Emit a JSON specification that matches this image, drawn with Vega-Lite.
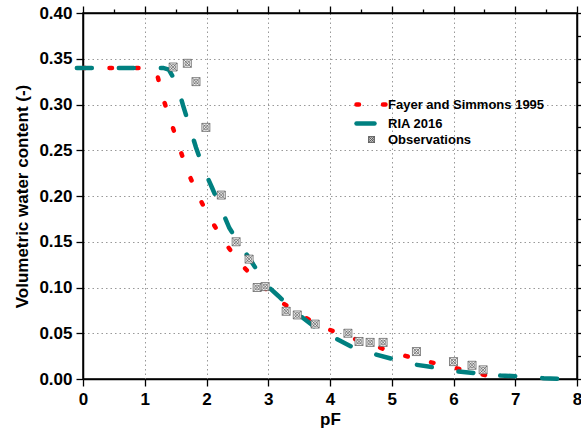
{
  "$schema": "https://vega.github.io/schema/vega-lite/v6.json",
  "width": 494,
  "height": 366,
  "autosize": "none",
  "padding": {"left": 83, "top": 13, "right": 4, "bottom": 54},
  "background": "white",
  "config": {
    "font": "Liberation Sans",
    "view": {"stroke": "black", "strokeWidth": 1.5},
    "axis": {
      "domainColor": "black", "domainWidth": 1.5,
      "tickColor": "black", "tickWidth": 1.3,
      "labelFont": "Liberation Sans", "labelFontSize": 17, "labelFontWeight": "bold", "labelColor": "black",
      "titleFont": "Liberation Sans", "titleFontSize": 17, "titleFontWeight": "bold", "titleColor": "black",
      "gridDash": [1.5, 3], "gridWidth": 1
    }
  },
  "datasets": {
    "curves": [
      {"series": "Fayer and Simmons 1995", "pF": 0.0, "theta": 0.34},
      {"series": "Fayer and Simmons 1995", "pF": 1.0, "theta": 0.34},
      {"series": "Fayer and Simmons 1995", "pF": 1.1, "theta": 0.339},
      {"series": "Fayer and Simmons 1995", "pF": 1.2, "theta": 0.333},
      {"series": "Fayer and Simmons 1995", "pF": 1.3, "theta": 0.306},
      {"series": "Fayer and Simmons 1995", "pF": 1.43, "theta": 0.28},
      {"series": "Fayer and Simmons 1995", "pF": 1.56, "theta": 0.253},
      {"series": "Fayer and Simmons 1995", "pF": 1.7, "theta": 0.226},
      {"series": "Fayer and Simmons 1995", "pF": 1.86, "theta": 0.201},
      {"series": "Fayer and Simmons 1995", "pF": 2.06, "theta": 0.175},
      {"series": "Fayer and Simmons 1995", "pF": 2.27, "theta": 0.152},
      {"series": "Fayer and Simmons 1995", "pF": 2.51, "theta": 0.129},
      {"series": "Fayer and Simmons 1995", "pF": 2.79, "theta": 0.109},
      {"series": "Fayer and Simmons 1995", "pF": 3.11, "theta": 0.089},
      {"series": "Fayer and Simmons 1995", "pF": 3.47, "theta": 0.072},
      {"series": "Fayer and Simmons 1995", "pF": 3.84, "theta": 0.058},
      {"series": "Fayer and Simmons 1995", "pF": 4.21, "theta": 0.048},
      {"series": "Fayer and Simmons 1995", "pF": 4.62, "theta": 0.039},
      {"series": "Fayer and Simmons 1995", "pF": 5.02, "theta": 0.029},
      {"series": "Fayer and Simmons 1995", "pF": 5.45, "theta": 0.021},
      {"series": "Fayer and Simmons 1995", "pF": 5.85, "theta": 0.015},
      {"series": "Fayer and Simmons 1995", "pF": 6.26, "theta": 0.0082},
      {"series": "Fayer and Simmons 1995", "pF": 6.68, "theta": 0.0016},
      {"series": "Fayer and Simmons 1995", "pF": 6.75, "theta": 0.0},
      {"series": "RIA 2016", "pF": -0.1, "theta": 0.34},
      {"series": "RIA 2016", "pF": 1.3, "theta": 0.34},
      {"series": "RIA 2016", "pF": 1.39, "theta": 0.338},
      {"series": "RIA 2016", "pF": 1.52, "theta": 0.323},
      {"series": "RIA 2016", "pF": 1.62, "theta": 0.299},
      {"series": "RIA 2016", "pF": 1.72, "theta": 0.277},
      {"series": "RIA 2016", "pF": 1.83, "theta": 0.253},
      {"series": "RIA 2016", "pF": 1.94, "theta": 0.232},
      {"series": "RIA 2016", "pF": 2.09, "theta": 0.209},
      {"series": "RIA 2016", "pF": 2.22, "theta": 0.189},
      {"series": "RIA 2016", "pF": 2.37, "theta": 0.165},
      {"series": "RIA 2016", "pF": 2.54, "theta": 0.147},
      {"series": "RIA 2016", "pF": 2.74, "theta": 0.127},
      {"series": "RIA 2016", "pF": 2.98, "theta": 0.102},
      {"series": "RIA 2016", "pF": 3.16, "theta": 0.091},
      {"series": "RIA 2016", "pF": 3.44, "theta": 0.073},
      {"series": "RIA 2016", "pF": 3.73, "theta": 0.058},
      {"series": "RIA 2016", "pF": 4.04, "theta": 0.046},
      {"series": "RIA 2016", "pF": 4.36, "theta": 0.035},
      {"series": "RIA 2016", "pF": 4.68, "theta": 0.028},
      {"series": "RIA 2016", "pF": 5.06, "theta": 0.021},
      {"series": "RIA 2016", "pF": 5.35, "theta": 0.016},
      {"series": "RIA 2016", "pF": 5.75, "theta": 0.012},
      {"series": "RIA 2016", "pF": 6.06, "theta": 0.0082},
      {"series": "RIA 2016", "pF": 6.43, "theta": 0.006},
      {"series": "RIA 2016", "pF": 6.76, "theta": 0.0038},
      {"series": "RIA 2016", "pF": 7.15, "theta": 0.0027},
      {"series": "RIA 2016", "pF": 7.46, "theta": 0.0008},
      {"series": "RIA 2016", "pF": 7.88, "theta": 0.0}
    ],
    "obs": [
      {"series": "Observations", "pF": 1.46, "theta": 0.341},
      {"series": "Observations", "pF": 1.69, "theta": 0.345},
      {"series": "Observations", "pF": 1.83, "theta": 0.325},
      {"series": "Observations", "pF": 1.99, "theta": 0.275},
      {"series": "Observations", "pF": 2.24, "theta": 0.201},
      {"series": "Observations", "pF": 2.48, "theta": 0.15},
      {"series": "Observations", "pF": 2.69, "theta": 0.131},
      {"series": "Observations", "pF": 2.82, "theta": 0.1},
      {"series": "Observations", "pF": 2.95, "theta": 0.101},
      {"series": "Observations", "pF": 3.29, "theta": 0.074},
      {"series": "Observations", "pF": 3.47, "theta": 0.07},
      {"series": "Observations", "pF": 3.76, "theta": 0.06},
      {"series": "Observations", "pF": 4.29, "theta": 0.05},
      {"series": "Observations", "pF": 4.47, "theta": 0.041},
      {"series": "Observations", "pF": 4.65, "theta": 0.04},
      {"series": "Observations", "pF": 4.86, "theta": 0.04},
      {"series": "Observations", "pF": 5.4, "theta": 0.03},
      {"series": "Observations", "pF": 6.0, "theta": 0.019},
      {"series": "Observations", "pF": 6.3, "theta": 0.015},
      {"series": "Observations", "pF": 6.48, "theta": 0.01}
    ]
  },
  "resolve": {"axis": {"x": "independent", "y": "independent"}},
  "layer": [
    {
      "layer": [
        {
          "data": {"name": "curves"},
          "mark": {"type": "line", "strokeWidth": 4.5, "strokeCap": "round", "clip": false},
          "encoding": {
            "x": {
              "field": "pF", "type": "quantitative",
              "scale": {"domain": [0, 8], "nice": false, "clamp": false},
              "axis": {
                "orient": "bottom", "title": "pF", "titlePadding": 4,
                "values": [0, 0.5, 1, 1.5, 2, 2.5, 3, 3.5, 4, 4.5, 5, 5.5, 6, 6.5, 7, 7.5, 8],
                "labelExpr": "datum.value % 1 === 0 ? format(datum.value, 'd') : ''",
                "labelFlush": false, "labelPadding": 5,
                "tickSize": {"condition": {"test": "datum.value % 1 !== 0", "value": 4}, "value": 7},
                "gridColor": {"condition": {"test": "datum.value % 1 !== 0", "value": "#d4d4d4"}, "value": "#999999"}
              }
            },
            "y": {
              "field": "theta", "type": "quantitative",
              "scale": {"domain": [0, 0.4], "nice": false},
              "axis": {
                "orient": "left", "title": "Volumetric water content (-)", "titlePadding": 7,
                "values": [0, 0.025, 0.05, 0.075, 0.1, 0.125, 0.15, 0.175, 0.2, 0.225, 0.25, 0.275, 0.3, 0.325, 0.35, 0.375, 0.4],
                "labelExpr": "round(datum.value * 40) % 2 === 0 ? format(datum.value, '.2f') : ''",
                "labelFlush": false, "labelPadding": 4,
                "tickSize": {"condition": {"test": "round(datum.value * 40) % 2 === 1", "value": 4}, "value": 7},
                "gridColor": {"condition": {"test": "round(datum.value * 40) % 2 === 1", "value": "#d4d4d4"}, "value": "#999999"}
              }
            },
            "color": {
              "field": "series", "type": "nominal",
              "scale": {"domain": ["Fayer and Simmons 1995", "RIA 2016", "Observations"], "range": ["#ff0000", "#008080", "#555555"]},
              "legend": {
                "orient": "none", "legendX": 282, "legendY": 85, "title": null,
                "labelFont": "Liberation Sans", "labelFontSize": 13, "labelFontWeight": "bold", "labelColor": "black",
                "labelLimit": 300, "labelOffset": 10, "rowPadding": 0, "symbolSize": 900,
                "encode": {
                  "symbols": {
                    "update": {
                      "shape": {"signal": "datum.value === 'Observations' ? 'M-1,-1H1V1H-1Z M-1,-1L1,1 M1,-1L-1,1 M0.6,0A0.6,0.6 0 1 1 -0.6,0A0.6,0.6 0 1 1 0.6,0' : 'stroke'"},
                      "size": {"signal": "datum.value === 'Observations' ? 36 : 900"},
                      "strokeWidth": {"signal": "datum.value === 'Observations' ? 0.7 : 4.5"},
                      "strokeDash": {"signal": "datum.value === 'Fayer and Simmons 1995' ? [2.5, 24] : datum.value === 'RIA 2016' ? [18, 27] : [1, 0]"},
                      "strokeCap": {"value": "round"},
                      "fill": {"signal": "datum.value === 'Observations' ? '#eeeeee' : 'transparent'"},
                      "stroke": {"signal": "datum.value === 'Fayer and Simmons 1995' ? '#ff0000' : datum.value === 'RIA 2016' ? '#008080' : '#555555'"}
                    }
                  }
                }
              }
            },
            "strokeDash": {
              "field": "series", "type": "nominal",
              "scale": {"domain": ["Fayer and Simmons 1995", "RIA 2016"], "range": [[2.5, 24], [15, 27]]},
              "legend": null
            }
          }
        },
        {
          "data": {"name": "obs"},
          "mark": {
            "type": "point", "filled": false, "fill": "#f0f0f0", "fillOpacity": 1,
            "strokeWidth": 0.7, "opacity": 1,
            "shape": "M-1,-1H1V1H-1Z M-1,-1L1,1 M1,-1L-1,1 M0.6,0A0.6,0.6 0 1 1 -0.6,0A0.6,0.6 0 1 1 0.6,0",
            "size": 64
          },
          "encoding": {
            "x": {"field": "pF", "type": "quantitative"},
            "y": {"field": "theta", "type": "quantitative"},
            "color": {"field": "series", "type": "nominal"}
          }
        }
      ]
    },
    {
      "data": {"name": "obs"},
      "mark": {"type": "point", "opacity": 0},
      "encoding": {
        "x": {
          "field": "pF", "type": "quantitative",
          "axis": {
            "orient": "top", "title": null, "labels": false, "grid": false,
            "values": [0, 0.5, 1, 1.5, 2, 2.5, 3, 3.5, 4, 4.5, 5, 5.5, 6, 6.5, 7, 7.5, 8],
            "tickSize": {"condition": {"test": "datum.value % 1 !== 0", "value": 4}, "value": 7}
          }
        },
        "y": {
          "field": "theta", "type": "quantitative",
          "axis": {
            "orient": "right", "title": null, "labels": false, "grid": false,
            "values": [0, 0.025, 0.05, 0.075, 0.1, 0.125, 0.15, 0.175, 0.2, 0.225, 0.25, 0.275, 0.3, 0.325, 0.35, 0.375, 0.4],
            "tickSize": {"condition": {"test": "round(datum.value * 40) % 2 === 1", "value": 4}, "value": 7}
          }
        }
      }
    }
  ]
}
